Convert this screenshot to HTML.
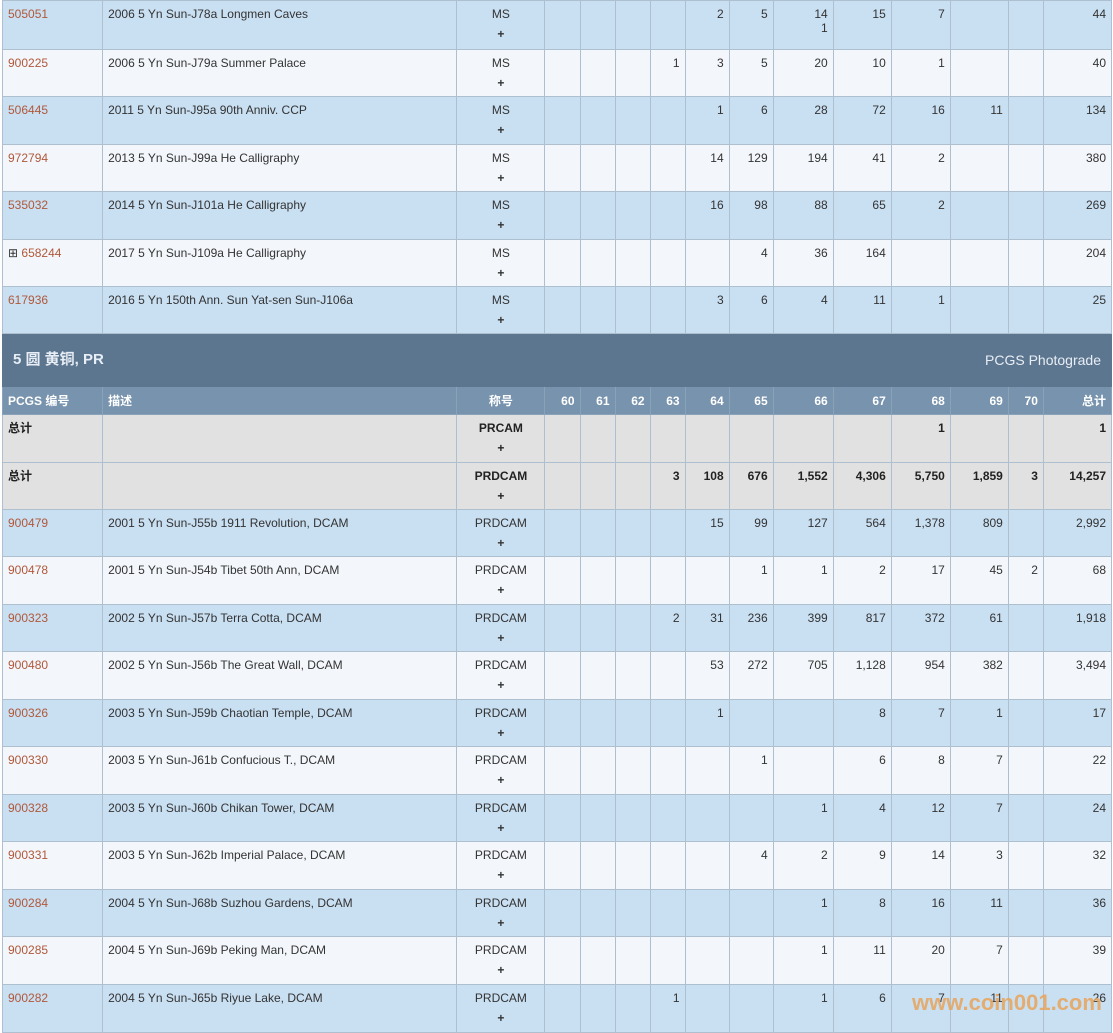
<!DOCTYPE html>
<html><head><meta charset="utf-8"><style>
body{margin:0;width:1113px;height:1031px;overflow:hidden;background:#fff;font-family:"Liberation Sans","Noto Sans CJK SC",sans-serif;font-size:12px;color:#333}
table{position:absolute;left:2px;top:0;border-collapse:collapse;table-layout:fixed;width:1110px}
td{border:1px solid #aebfcf;vertical-align:top;padding:6px 5px 0 5px;text-align:right;overflow:hidden;white-space:nowrap;line-height:14px}
td.l{text-align:left}
td.c{text-align:center}
a{color:#b0583a;text-decoration:none}
tr.a td{background:#c9dff2}
tr.b td{background:#f3f7fb}
tr.t td{background:#e1e1e1;font-weight:bold;color:#222}
tr.h td{background:#5d7690;color:#e8eef5;border-color:#5d7690;vertical-align:middle;padding:0 10px}
tr.ch td{background:#7893ad;color:#fff;font-weight:bold;vertical-align:middle;padding:0 5px;border-color:#8aa2b8}
.p{display:block;text-align:center;margin-top:6px;font-weight:bold}
.wm{position:absolute;left:912px;top:990px;font:bold 22px "Liberation Sans",sans-serif;color:#e8a45a;opacity:.85}
</style></head><body>
<table>
<colgroup><col style="width:100px"><col style="width:354px"><col style="width:88px"><col style="width:35px"><col style="width:35px"><col style="width:35px"><col style="width:35px"><col style="width:44px"><col style="width:44px"><col style="width:60px"><col style="width:58px"><col style="width:59px"><col style="width:58px"><col style="width:35px"><col style="width:68px"></colgroup>
<tr class="a" style="height:49px"><td class="l"><a>505051</a></td><td class="l">2006 5 Yn Sun-J78a Longmen Caves</td><td class="c">MS<span class="p">+</span></td><td></td><td></td><td></td><td></td><td>2</td><td>5</td><td>14<br>1</td><td>15</td><td>7</td><td></td><td></td><td>44</td></tr>
<tr class="b" style="height:47px"><td class="l"><a>900225</a></td><td class="l">2006 5 Yn Sun-J79a Summer Palace</td><td class="c">MS<span class="p">+</span></td><td></td><td></td><td></td><td>1</td><td>3</td><td>5</td><td>20</td><td>10</td><td>1</td><td></td><td></td><td>40</td></tr>
<tr class="a" style="height:48px"><td class="l"><a>506445</a></td><td class="l">2011 5 Yn Sun-J95a 90th Anniv. CCP</td><td class="c">MS<span class="p">+</span></td><td></td><td></td><td></td><td></td><td>1</td><td>6</td><td>28</td><td>72</td><td>16</td><td>11</td><td></td><td>134</td></tr>
<tr class="b" style="height:47px"><td class="l"><a>972794</a></td><td class="l">2013 5 Yn Sun-J99a He Calligraphy</td><td class="c">MS<span class="p">+</span></td><td></td><td></td><td></td><td></td><td>14</td><td>129</td><td>194</td><td>41</td><td>2</td><td></td><td></td><td>380</td></tr>
<tr class="a" style="height:48px"><td class="l"><a>535032</a></td><td class="l">2014 5 Yn Sun-J101a He Calligraphy</td><td class="c">MS<span class="p">+</span></td><td></td><td></td><td></td><td></td><td>16</td><td>98</td><td>88</td><td>65</td><td>2</td><td></td><td></td><td>269</td></tr>
<tr class="b" style="height:47px"><td class="l">⊞ <a>658244</a></td><td class="l">2017 5 Yn Sun-J109a He Calligraphy</td><td class="c">MS<span class="p">+</span></td><td></td><td></td><td></td><td></td><td></td><td>4</td><td>36</td><td>164</td><td></td><td></td><td></td><td>204</td></tr>
<tr class="a" style="height:47px"><td class="l"><a>617936</a></td><td class="l">2016 5 Yn 150th Ann. Sun Yat-sen Sun-J106a</td><td class="c">MS<span class="p">+</span></td><td></td><td></td><td></td><td></td><td>3</td><td>6</td><td>4</td><td>11</td><td>1</td><td></td><td></td><td>25</td></tr>
<tr class="h" style="height:53px"><td colspan="8" class="l" style="font-size:15px;font-weight:bold">5 圆 黄铜, PR</td><td colspan="7" style="font-size:14px">PCGS Photograde</td></tr>
<tr class="ch" style="height:28px"><td class="l">PCGS 编号</td><td class="l">描述</td><td class="c">称号</td><td>60</td><td>61</td><td>62</td><td>63</td><td>64</td><td>65</td><td>66</td><td>67</td><td>68</td><td>69</td><td>70</td><td>总计</td></tr>
<tr class="t" style="height:48px"><td class="l">总计</td><td></td><td class="c">PRCAM<span class="p">+</span></td><td></td><td></td><td></td><td></td><td></td><td></td><td></td><td></td><td>1</td><td></td><td></td><td>1</td></tr>
<tr class="t" style="height:47px"><td class="l">总计</td><td></td><td class="c">PRDCAM<span class="p">+</span></td><td></td><td></td><td></td><td>3</td><td>108</td><td>676</td><td>1,552</td><td>4,306</td><td>5,750</td><td>1,859</td><td>3</td><td>14,257</td></tr>
<tr class="a" style="height:47px"><td class="l"><a>900479</a></td><td class="l">2001 5 Yn Sun-J55b 1911 Revolution, DCAM</td><td class="c">PRDCAM<span class="p">+</span></td><td></td><td></td><td></td><td></td><td>15</td><td>99</td><td>127</td><td>564</td><td>1,378</td><td>809</td><td></td><td>2,992</td></tr>
<tr class="b" style="height:48px"><td class="l"><a>900478</a></td><td class="l">2001 5 Yn Sun-J54b Tibet 50th Ann, DCAM</td><td class="c">PRDCAM<span class="p">+</span></td><td></td><td></td><td></td><td></td><td></td><td>1</td><td>1</td><td>2</td><td>17</td><td>45</td><td>2</td><td>68</td></tr>
<tr class="a" style="height:47px"><td class="l"><a>900323</a></td><td class="l">2002 5 Yn Sun-J57b Terra Cotta, DCAM</td><td class="c">PRDCAM<span class="p">+</span></td><td></td><td></td><td></td><td>2</td><td>31</td><td>236</td><td>399</td><td>817</td><td>372</td><td>61</td><td></td><td>1,918</td></tr>
<tr class="b" style="height:48px"><td class="l"><a>900480</a></td><td class="l">2002 5 Yn Sun-J56b The Great Wall, DCAM</td><td class="c">PRDCAM<span class="p">+</span></td><td></td><td></td><td></td><td></td><td>53</td><td>272</td><td>705</td><td>1,128</td><td>954</td><td>382</td><td></td><td>3,494</td></tr>
<tr class="a" style="height:47px"><td class="l"><a>900326</a></td><td class="l">2003 5 Yn Sun-J59b Chaotian Temple, DCAM</td><td class="c">PRDCAM<span class="p">+</span></td><td></td><td></td><td></td><td></td><td>1</td><td></td><td></td><td>8</td><td>7</td><td>1</td><td></td><td>17</td></tr>
<tr class="b" style="height:48px"><td class="l"><a>900330</a></td><td class="l">2003 5 Yn Sun-J61b Confucious T., DCAM</td><td class="c">PRDCAM<span class="p">+</span></td><td></td><td></td><td></td><td></td><td></td><td>1</td><td></td><td>6</td><td>8</td><td>7</td><td></td><td>22</td></tr>
<tr class="a" style="height:47px"><td class="l"><a>900328</a></td><td class="l">2003 5 Yn Sun-J60b Chikan Tower, DCAM</td><td class="c">PRDCAM<span class="p">+</span></td><td></td><td></td><td></td><td></td><td></td><td></td><td>1</td><td>4</td><td>12</td><td>7</td><td></td><td>24</td></tr>
<tr class="b" style="height:48px"><td class="l"><a>900331</a></td><td class="l">2003 5 Yn Sun-J62b Imperial Palace, DCAM</td><td class="c">PRDCAM<span class="p">+</span></td><td></td><td></td><td></td><td></td><td></td><td>4</td><td>2</td><td>9</td><td>14</td><td>3</td><td></td><td>32</td></tr>
<tr class="a" style="height:47px"><td class="l"><a>900284</a></td><td class="l">2004 5 Yn Sun-J68b Suzhou Gardens, DCAM</td><td class="c">PRDCAM<span class="p">+</span></td><td></td><td></td><td></td><td></td><td></td><td></td><td>1</td><td>8</td><td>16</td><td>11</td><td></td><td>36</td></tr>
<tr class="b" style="height:48px"><td class="l"><a>900285</a></td><td class="l">2004 5 Yn Sun-J69b Peking Man, DCAM</td><td class="c">PRDCAM<span class="p">+</span></td><td></td><td></td><td></td><td></td><td></td><td></td><td>1</td><td>11</td><td>20</td><td>7</td><td></td><td>39</td></tr>
<tr class="a" style="height:48px"><td class="l"><a>900282</a></td><td class="l">2004 5 Yn Sun-J65b Riyue Lake, DCAM</td><td class="c">PRDCAM<span class="p">+</span></td><td></td><td></td><td></td><td>1</td><td></td><td></td><td>1</td><td>6</td><td>7</td><td>11</td><td></td><td>26</td></tr>
</table>
<div class="wm">www.coin001.com</div>
</body></html>
